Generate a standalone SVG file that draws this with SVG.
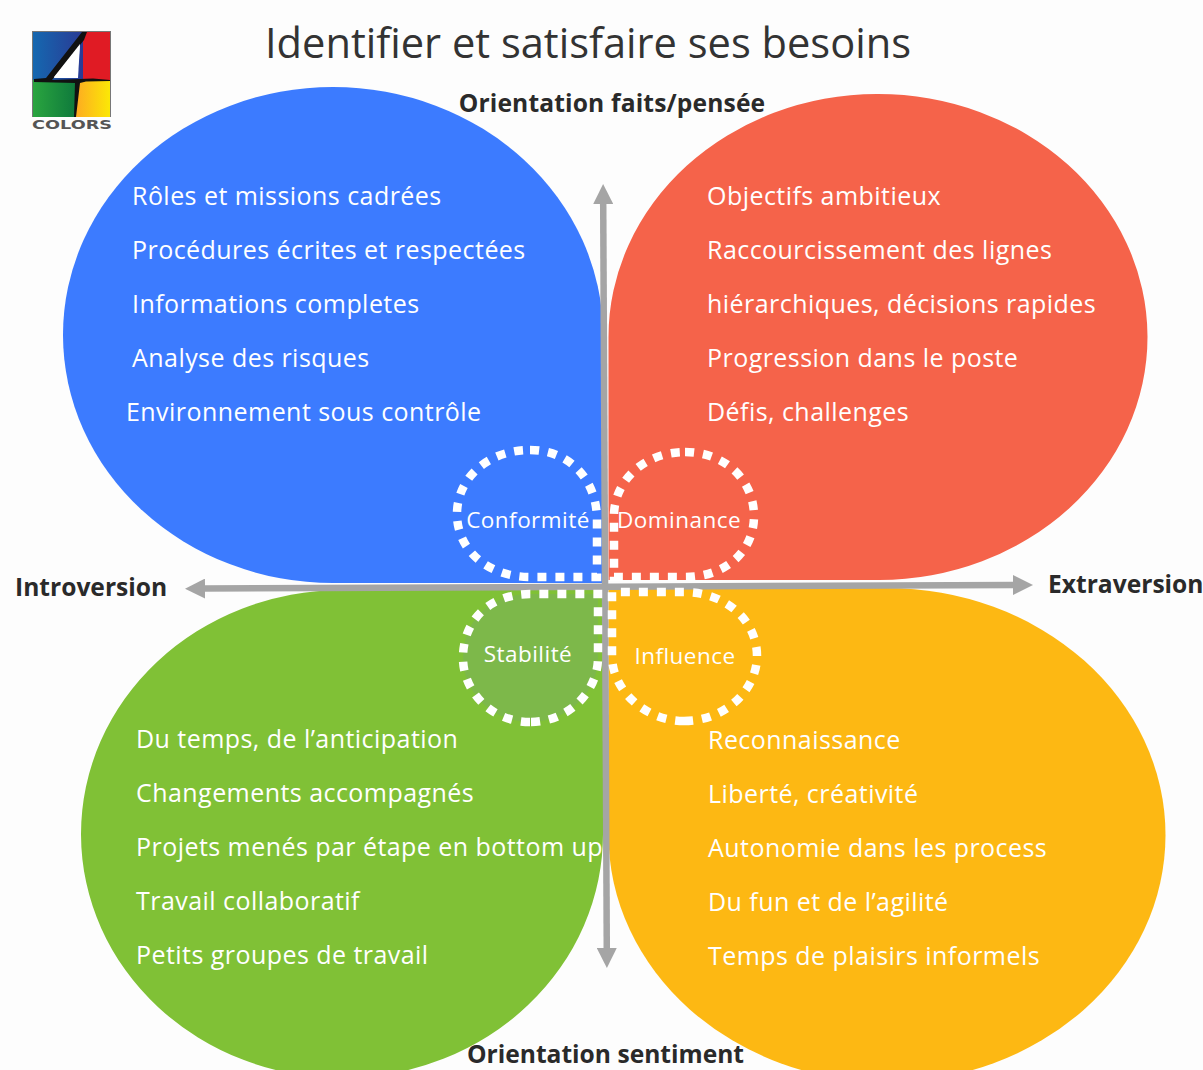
<svg xmlns="http://www.w3.org/2000/svg" width="1203" height="1070" viewBox="0 0 1203 1070">
<defs>
<linearGradient id="lb" x1="0" x2="1" y1="0" y2="0"><stop offset="0" stop-color="#1568b0"/><stop offset="1" stop-color="#2a3a94"/></linearGradient>
<linearGradient id="ly" x1="0" x2="1" y1="0" y2="0"><stop offset="0" stop-color="#fdaa22"/><stop offset="1" stop-color="#fbe806"/></linearGradient>
<linearGradient id="lg" x1="0" x2="1" y1="0" y2="0"><stop offset="0" stop-color="#2aa53f"/><stop offset="1" stop-color="#0f7a3c"/></linearGradient>
<marker id="ah" viewBox="0 0 10 10" refX="1" refY="5" markerWidth="20" markerHeight="20" markerUnits="userSpaceOnUse" orient="auto-start-reverse"><path d="M0 0L10 5L0 10Z" fill="#a5a5a5"/></marker>
</defs>
<style>
text{font-family:"Open Sans","Noto Sans","Liberation Sans",sans-serif}
.t{fill:#fff;font-size:25px;letter-spacing:.45px}
.s{fill:#fff;font-size:22.5px;letter-spacing:.45px}
.h{fill:#2a2a2a;font-size:24.6px;font-weight:700}
.d{fill:none;stroke:#fff;stroke-width:8.5;stroke-dasharray:9 9}
.c{fill:none;stroke:#a5a5a5;stroke-width:6.5}
</style>
<rect width="1203" height="1070" fill="#fdfdfd"/>
<g id="logo">
<rect x="32" y="31" width="79" height="86" fill="#777"/>
<rect x="33" y="32" width="50" height="49" fill="url(#lb)"/>
<rect x="83" y="32" width="27" height="49" fill="#e01b24"/>
<rect x="33" y="80" width="42" height="37" fill="url(#lg)"/>
<rect x="75" y="80" width="35" height="37" fill="url(#ly)"/>
<path d="M80 44L53 78H78Z" fill="#fff"/>
<path d="M82 32H87L84 40L52 80L93 78.5L110 80V81L86 81.5L80 83L76 117H74L75 83L34 82V79L46 78Z" fill="#111"/>
<path d="M80 44L54 77H77Z" fill="#fff"/>
<text x="72" y="129" text-anchor="middle" style="font-family:'DejaVu Sans',sans-serif;font-weight:700" font-size="12.5" fill="#555" textLength="80" lengthAdjust="spacingAndGlyphs">COLORS</text>
</g>
<text id="title" x="588" y="58" text-anchor="middle" font-size="41.6" fill="#333">Identifier et satisfaire ses besoins</text>
<g id="blue">
<path d="M603 583H333A270 248 0 1 1 603 335Z" fill="#3c7bff"/>
<text class="t" x="132" y="205">Rôles et missions cadrées</text>
<text class="t" x="132" y="259">Procédures écrites et respectées</text>
<text class="t" x="132" y="313">Informations completes</text>
<text class="t" x="132" y="367">Analyse des risques</text>
<text class="t" x="126" y="421">Environnement sous contrôle</text>
</g>
<g id="red">
<path d="M608.5 580V338A269.5 243 0 1 1 879 580Z" fill="#f5634a"/>
<text class="t" x="707" y="205">Objectifs ambitieux</text>
<text class="t" x="707" y="259">Raccourcissement des lignes</text>
<text class="t" x="707" y="313">hiérarchiques, décisions rapides</text>
<text class="t" x="707" y="367">Progression dans le poste</text>
<text class="t" x="707" y="421">Défis, challenges</text>
</g>
<g id="green">
<path d="M603 590V832A261 244 0 1 1 342 590Z" fill="#80c136"/>
<text class="t" x="136" y="748">Du temps, de l’anticipation</text>
<text class="t" x="136" y="802">Changements accompagnés</text>
<text class="t" x="136" y="856">Projets menés par étape en bottom up</text>
<text class="t" x="136" y="910">Travail collaboratif</text>
<text class="t" x="136" y="964">Petits groupes de travail</text>
</g>
<g id="yellow">
<path d="M608.5 588H887A278.5 247 0 1 1 608.5 835Z" fill="#fdb813"/>
<text class="t" x="708" y="749">Reconnaissance</text>
<text class="t" x="708" y="803">Liberté, créativité</text>
<text class="t" x="708" y="857">Autonomie dans les process</text>
<text class="t" x="708" y="911">Du fun et de l’agilité</text>
<text class="t" x="708" y="965">Temps de plaisirs informels</text>
</g>
<g id="connectors">
<path class="c" d="M603.2 202L606.8 950" marker-start="url(#ah)" marker-end="url(#ah)"/>
<path class="c" d="M203 588.6L1015 585" marker-start="url(#ah)" marker-end="url(#ah)"/>
</g>
<g id="conformite">
<path d="M530 450C570 450 597 480 597 520V577H530C488 577 457 550 457 514S488 450 530 450Z" class="d"/>
<text class="s" x="528" y="528" text-anchor="middle">Conformité</text>
</g>
<g id="dominance">
<path d="M685 452C725 452 754 480 754 516S725 577 685 577H614V516C614 480 645 452 685 452Z" class="d"/>
<text class="s" x="679" y="528" text-anchor="middle">Dominance</text>
</g>
<g id="stabilite">
<path d="M530 722C490 722 463 690 463 658C463 620 490 594 530 594H598V658C598 690 570 722 530 722Z" style="fill:#7db84a" class="d"/>
<text class="s" x="528" y="662" text-anchor="middle">Stabilité</text>
</g>
<g id="influence">
<path d="M684 721C725 721 757 690 757 656C757 620 725 592 684 592H612V656C612 690 645 721 684 721Z" class="d"/>
<text class="s" x="685" y="664" text-anchor="middle">Influence</text>
</g>
<text class="h" x="612" y="112" text-anchor="middle" style="letter-spacing:.15px">Orientation faits/pensée</text>
<text class="h" x="15" y="596">Introversion</text>
<text class="h" x="1048" y="593">Extraversion</text>
<text class="h" x="605.5" y="1062.5" text-anchor="middle">Orientation sentiment</text>
</svg>
